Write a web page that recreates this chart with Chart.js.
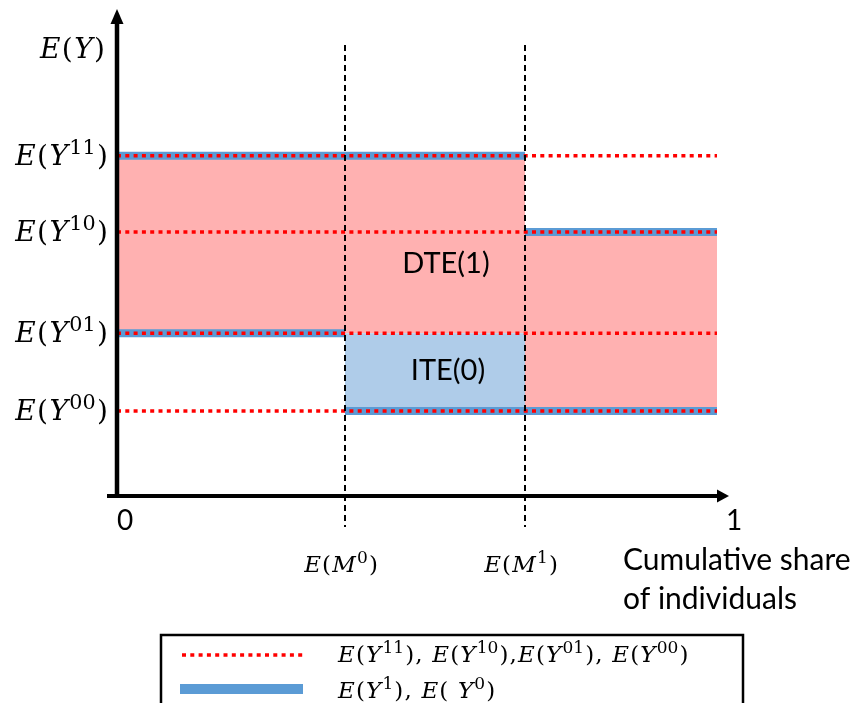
<!DOCTYPE html>
<html>
<head>
<meta charset="utf-8">
<script src="https://cdn.jsdelivr.net/npm/chart.js@4.4.0/dist/chart.umd.min.js"></script>
<style>
    html, body { margin: 0; padding: 0; background: #fff; }
    #wrap { width: 855px; height: 703px; position: relative; }
</style>
</head>
<body>
<div id="wrap"><canvas id="chart" width="855" height="703"></canvas></div>
<script>
/* ===============================
   Potential outcomes by share of individuals
================================ */

// outcome levels E(Y^11), E(Y^10), E(Y^01), E(Y^00)
const levelNames = ['11', '10', '01', '00'];
const levelValues = [7.0, 5.43, 3.35, 1.75];

// mediator shares E(M^0), E(M^1) on the x axis
const mediatorNames = ['0', '1'];
const mediatorShares = [0.38, 0.68];

// x axis ends
const shareTicks = [0, 1];

// y range, guide lines, axis title
const yRange = [0, 10];
const guideRange = [9.28, -0.64];
const yTitleValue = 9.2;

const [Y11, Y10, Y01, Y00] = levelValues;
const [M0, M1] = mediatorShares;
const [X0, X1] = shareTicks;

const RED = '#ff0000';
const BAND = '#5b9bd5';
const PINK = '#ffb1b1';
const ITE_FILL = '#afcce9';
const MATH_FONT = '"DejaVu Serif", serif';
const SANS_FONT = 'Lato, "Open Sans", sans-serif';

const line = (data, extra) => Object.assign({
    data,
    borderWidth: 0,
    pointRadius: 0,
    fill: false,
    tension: 0,
    spanGaps: false
}, extra);

const datasets = [];

// 0,1 dashed guides at E(M^0), E(M^1)
mediatorShares.forEach(m => datasets.push(line(
    [{ x: m, y: guideRange[0] }, { x: m, y: guideRange[1] }],
    { borderColor: '#000', borderWidth: 2, borderDash: [6, 4], clip: false }
)));

// 2-5 red dotted level lines
levelValues.forEach(v => datasets.push(line(
    [{ x: X0, y: v }, { x: X1, y: v }],
    { borderColor: RED, borderWidth: 3.5, borderDash: [4, 4.3] }
)));

// 6 E(Y^1) band
datasets.push(line(
    [{ x: X0, y: Y11 }, { x: M1, y: Y11 }, { x: M1, y: null }, { x: M1, y: Y10 }, { x: X1, y: Y10 }],
    { borderColor: BAND, borderWidth: 8, borderCapStyle: 'butt' }
));

// 7 E(Y^0) band
datasets.push(line(
    [{ x: X0, y: Y01 }, { x: M0, y: Y01 }, { x: M0, y: null }, { x: M0, y: Y00 }, { x: X1, y: Y00 }],
    { borderColor: BAND, borderWidth: 8, borderCapStyle: 'butt' }
));

// 8,9 ITE(0) box
datasets.push(line([{ x: M0, y: Y01 }, { x: M1, y: Y01 }], { fill: 9, backgroundColor: ITE_FILL }));
datasets.push(line([{ x: M0, y: Y00 }, { x: M1, y: Y00 }]));

// 10,11 DTE(1) area
datasets.push(line(
    [{ x: X0, y: Y11 }, { x: M1, y: Y11 }, { x: M1, y: Y10 }, { x: X1, y: Y10 }],
    { fill: 11, backgroundColor: PINK }
));
datasets.push(line([{ x: X0, y: Y01 }, { x: M1, y: Y01 }, { x: M1, y: Y00 }, { x: X1, y: Y00 }]));

/* ── math text: [text, kind] with i = italic, r = roman, u = superscript ── */
function mathParts(sup, letter = 'Y') {
    return [['E', 'i'], ['(', 'r'], [letter, 'i'], [sup, 'u'], [')', 'r']];
}

function drawMath(ctx, parts, x, y, size, align, gapRatio = 0.05) {
    const gap = size * gapRatio;
    const fontOf = k => k === 'i' ? `italic ${size}px ${MATH_FONT}`
        : k === 'u' ? `${size * 0.74}px ${MATH_FONT}` : `${size}px ${MATH_FONT}`;
    const widths = parts.map(([t, k]) => { ctx.font = fontOf(k); return ctx.measureText(t).width; });
    const total = widths.reduce((a, b) => a + b, 0) + gap * (parts.length - 1);
    let cx = align === 'right' ? x - total : align === 'center' ? x - total / 2 : x;
    ctx.textAlign = 'left';
    ctx.textBaseline = 'alphabetic';
    parts.forEach(([t, k], i) => {
        ctx.font = fontOf(k);
        ctx.fillText(t, cx, k === 'u' ? y - size * 0.4 : y);
        cx += widths[i] + gap;
    });
}

const decorPlugin = {
    id: 'decor',
    afterDatasetsDraw(chart) {
        const { ctx, scales: { x, y } } = chart;
        const px0 = x.getPixelForValue(X0), px1 = x.getPixelForValue(X1);
        const py0 = y.getPixelForValue(0), pyTop = chart.chartArea.top;
        ctx.save();
        ctx.fillStyle = '#000';
        ctx.strokeStyle = '#000';

        // y axis with arrow
        ctx.lineWidth = 4.5;
        ctx.beginPath();
        ctx.moveTo(px0, py0 + 2);
        ctx.lineTo(px0, pyTop + 12);
        ctx.stroke();
        ctx.beginPath();
        ctx.moveTo(px0, pyTop - 1);
        ctx.lineTo(px0 - 6.5, pyTop + 14);
        ctx.lineTo(px0 + 6.5, pyTop + 14);
        ctx.closePath();
        ctx.fill();

        // x axis with arrow
        ctx.lineWidth = 4;
        ctx.beginPath();
        ctx.moveTo(px0 - 10, py0);
        ctx.lineTo(px1 + 2, py0);
        ctx.stroke();
        ctx.beginPath();
        ctx.moveTo(px1 + 12, py0);
        ctx.lineTo(px1, py0 - 6.5);
        ctx.lineTo(px1, py0 + 6.5);
        ctx.closePath();
        ctx.fill();

        // y labels
        drawMath(ctx, [['E', 'i'], ['(', 'r'], ['Y', 'i'], [')', 'r']], px0 - 12, y.getPixelForValue(yTitleValue) + 9, 28, 'right');
        levelNames.forEach((n, i) => {
            drawMath(ctx, mathParts(n), px0 - 9, y.getPixelForValue(levelValues[i]) + 9, 28, 'right');
        });

        // x labels
        ctx.font = `28px ${SANS_FONT}`;
        ctx.textAlign = 'center';
        ctx.fillText(String(X0), px0 + 8, py0 + 34);
        ctx.fillText(String(X1), px1 + 17, py0 + 34);
        mediatorNames.forEach((n, i) => {
            drawMath(ctx, mathParts(n, 'M'), x.getPixelForValue(mediatorShares[i]) - 4, py0 + 76, 23, 'center');
        });
        ctx.textAlign = 'left';
        ctx.font = `30px ${SANS_FONT}`;
        ctx.fillText('Cumulative share', px1 - 94, py0 + 74);
        ctx.fillText('of individuals', px1 - 94, py0 + 113);

        // region labels
        const midX = (x.getPixelForValue(M0) + x.getPixelForValue(M1)) / 2 + 11;
        ctx.textAlign = 'center';
        ctx.font = `29px ${SANS_FONT}`;
        ctx.fillText('DTE(1)', midX, (y.getPixelForValue(Y10) + y.getPixelForValue(Y01)) / 2 - 10);
        ctx.fillText('ITE(0)', midX + 2, (y.getPixelForValue(Y01) + y.getPixelForValue(Y00)) / 2 + 8);

        // legend box
        const lx = 161, ly = 635, lw = 582;
        ctx.lineWidth = 2.5;
        ctx.strokeRect(lx, ly, lw, 120);
        ctx.setLineDash([4, 4.3]);
        ctx.strokeStyle = RED;
        ctx.lineWidth = 3.5;
        ctx.beginPath();
        ctx.moveTo(lx + 21, ly + 20);
        ctx.lineTo(lx + 143, ly + 20);
        ctx.stroke();
        ctx.setLineDash([]);
        ctx.strokeStyle = BAND;
        ctx.lineWidth = 10;
        ctx.beginPath();
        ctx.moveTo(lx + 19, ly + 54);
        ctx.lineTo(lx + 142, ly + 54);
        ctx.stroke();

        const row1 = [
            ...mathParts(levelNames[0]), [',', 'r'], [' ', 'r'],
            ...mathParts(levelNames[1]), [',', 'r'],
            ...mathParts(levelNames[2]), [',', 'r'], [' ', 'r'],
            ...mathParts(levelNames[3])
        ];
        const row2 = [
            ...mathParts('1'), [',', 'r'], [' ', 'r'],
            ['E', 'i'], ['(', 'r'], [' ', 'r'], ['Y', 'i'], ['0', 'u'], [')', 'r']
        ];
        drawMath(ctx, row1, lx + 177, ly + 27, 23, 'left', 0.05);
        drawMath(ctx, row2, lx + 177, ly + 63, 23, 'left', 0.05);
        ctx.restore();
    }
};

new Chart(document.getElementById('chart'), {
    type: 'line',
    data: { datasets },
    options: {
        responsive: false,
        animation: false,
        events: [],
        layout: { padding: { left: 117, right: 138, top: 10, bottom: 207 } },
        scales: {
            x: { type: 'linear', min: X0, max: X1, display: false },
            y: { type: 'linear', min: yRange[0], max: yRange[1], display: false }
        },
        plugins: { legend: { display: false }, tooltip: { enabled: false } }
    },
    plugins: [decorPlugin]
});
</script>
</body>
</html>
